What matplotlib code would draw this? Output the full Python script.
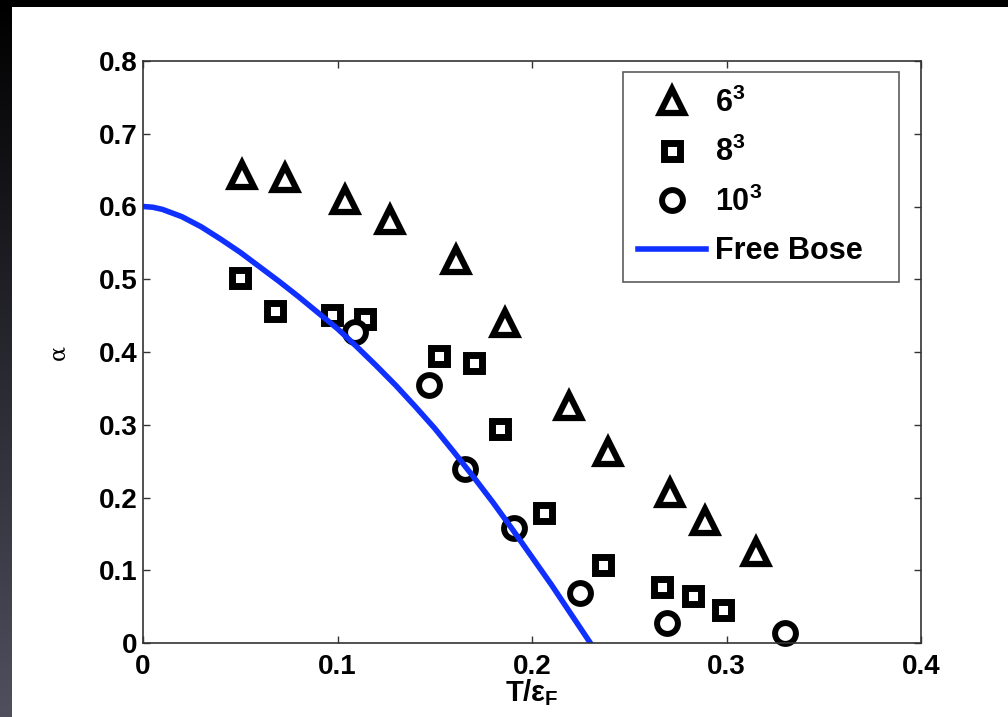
import numpy as np
import matplotlib
matplotlib.use("Agg")
import matplotlib.pyplot as plt
from matplotlib.patches import Rectangle

# data
t6 = [0.051, 0.073, 0.104, 0.127, 0.161, 0.186, 0.219, 0.239, 0.271, 0.289, 0.315]
a6 = [0.643, 0.639, 0.609, 0.582, 0.527, 0.440, 0.326, 0.263, 0.206, 0.168, 0.125]

t8 = [0.050, 0.068, 0.097, 0.114, 0.152, 0.170, 0.1835, 0.206, 0.2365, 0.267, 0.283, 0.298]
a8 = [0.502, 0.456, 0.451, 0.445, 0.3945, 0.385, 0.294, 0.179, 0.107, 0.077, 0.065, 0.045]

t10 = [0.109, 0.147, 0.1656, 0.191, 0.2247, 0.2694, 0.330]
a10 = [0.4275, 0.3546, 0.239, 0.158, 0.0687, 0.0275, 0.0137]

t_bose = [0.0, 0.005, 0.01, 0.02, 0.03, 0.04, 0.05, 0.06, 0.07, 0.08, 0.09, 0.10, 0.11, 0.12,
          0.13, 0.14, 0.15, 0.16, 0.17, 0.18, 0.19, 0.20, 0.21, 0.22, 0.23]
a_bose = [0.600, 0.599, 0.596, 0.586, 0.572, 0.555, 0.537, 0.517, 0.497, 0.476, 0.454, 0.432,
          0.407, 0.381, 0.354, 0.325, 0.295, 0.262, 0.228, 0.193, 0.156, 0.118, 0.080,
          0.040, 0.0]

legend_labels = ["$6^3$", "$8^3$", "$10^3$", "Free Bose"]

plt.rcParams["font.family"] = ["Liberation Sans", "DejaVu Sans"]
plt.rcParams["font.weight"] = "bold"
plt.rcParams["mathtext.fontset"] = "custom"
plt.rcParams["mathtext.rm"] = "Liberation Sans:bold"
plt.rcParams["mathtext.bf"] = "Liberation Sans:bold"
plt.rcParams["mathtext.it"] = "Liberation Sans:bold"
plt.rcParams["mathtext.default"] = "bf"

fig = plt.figure(figsize=(10.08, 7.17), dpi=100, facecolor="black")

# slide-like frame: dark gradient strip on the left, white panel
strip = fig.add_axes([0, 0, 12 / 1008, 1])
grad = np.linspace(1, 0, 256)
cols = np.zeros((256, 1, 3))
cols[:, 0, 0] = 0.31 * grad
cols[:, 0, 1] = 0.31 * grad
cols[:, 0, 2] = 0.37 * grad
strip.imshow(cols, aspect="auto", origin="lower", extent=[0, 1, 0, 1])
strip.set_axis_off()
fig.patches.append(Rectangle((12 / 1008, 0), 1 - 12 / 1008, 1 - 7 / 717,
                             transform=fig.transFigure, facecolor="white",
                             edgecolor="none", zorder=-1))

ax = fig.add_axes([143 / 1008, 1 - 643 / 717, 778 / 1008, 582 / 717])
ax.set_facecolor("white")

ax.plot(t6, a6, linestyle="none", marker="^", ms=17, mew=4.5,
        mec="black", mfc="white", label=legend_labels[0], clip_on=False)
ax.plot(t8, a8, linestyle="none", marker="s", ms=12, mew=5,
        mec="black", mfc="white", label=legend_labels[1], clip_on=False)
ax.plot(t10, a10, linestyle="none", marker="o", ms=15, mew=4.3,
        mec="black", mfc="white", label=legend_labels[2], clip_on=False)
ax.plot(t_bose, a_bose, color="#1030ff", lw=4, label=legend_labels[3])

ax.set_xlim(0, 0.4)
ax.set_ylim(0, 0.8)
ax.set_xticks([0, 0.1, 0.2, 0.3, 0.4])
ax.set_xticklabels(["0", "0.1", "0.2", "0.3", "0.4"])
ax.set_yticks([0, 0.1, 0.2, 0.3, 0.4, 0.5, 0.6, 0.7, 0.8])
ax.set_yticklabels(["0", "0.1", "0.2", "0.3", "0.4", "0.5", "0.6", "0.7", "0.8"])

ax.tick_params(direction="in", length=5, width=1, color="#333333",
               top=True, right=True, labelsize=20)
ax.tick_params(axis="x", pad=8)
ax.tick_params(axis="y", pad=4)
for s in ax.spines.values():
    s.set_color("#333333")
    s.set_linewidth(1.2)

ax.set_xlabel(r"T/$\varepsilon_F$", fontsize=21, fontweight="bold")
ax.xaxis.set_label_coords(0.5, -0.058)
ax.xaxis.label.set_va("top")
ax.set_ylabel("α", fontsize=16, fontweight="normal", family="DejaVu Serif")
ax.yaxis.set_label_coords(-0.094, 0.5)

leg = ax.legend(loc="upper left", bbox_to_anchor=(0.617, 0, 0.355, 0.981),
                mode="expand", fontsize=22,
                frameon=True, fancybox=False, edgecolor="#333333",
                labelspacing=0.6, handlelength=2.2, handletextpad=0.3,
                borderpad=0.5, borderaxespad=0)
leg.get_frame().set_linewidth(1.2)

fig.savefig("out.png", dpi=100, facecolor=fig.get_facecolor())
